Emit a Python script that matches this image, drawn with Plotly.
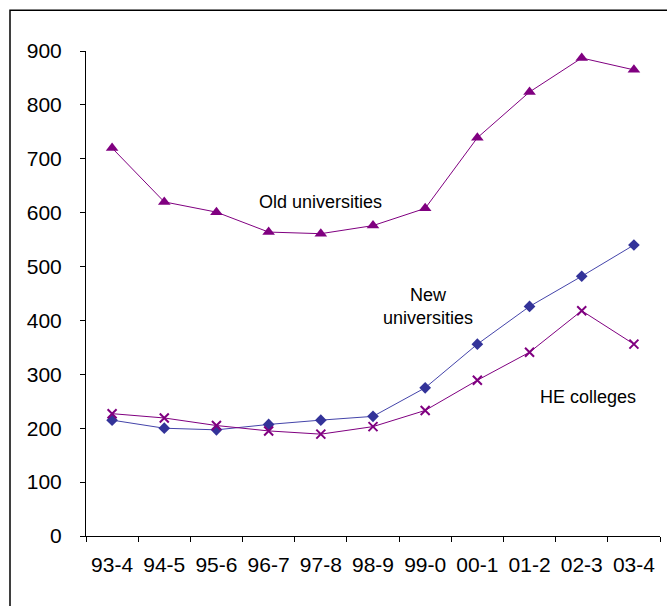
import plotly.graph_objects as go

categories = ["93-4", "94-5", "95-6", "96-7", "97-8", "98-9", "99-0", "00-1", "01-2", "02-3", "03-4"]
old_universities = [720, 620, 601, 564, 561, 576, 608, 739, 824, 887, 865]
new_universities = [215, 200, 197, 207, 215, 222, 275, 356, 426, 482, 540]
he_colleges = [227, 219, 205, 195, 189, 203, 233, 289, 341, 418, 356]
y_ticks = [0, 100, 200, 300, 400, 500, 600, 700, 800, 900]

FONT = "Liberation Sans, Arial, sans-serif"
PURPLE = "#800080"
BLUE = "#333399"

fig = go.Figure()
fig.add_trace(go.Scatter(x=categories, y=old_universities, mode="lines+markers",
                         line=dict(color=PURPLE, width=1),
                         marker=dict(symbol="triangle-up", size=11, color=PURPLE),
                         name="Old universities"))
fig.add_trace(go.Scatter(x=categories, y=new_universities, mode="lines+markers",
                         line=dict(color="#4444aa", width=1),
                         marker=dict(symbol="diamond", size=9, color=BLUE),
                         name="New universities"))
fig.add_trace(go.Scatter(x=categories, y=he_colleges, mode="lines+markers",
                         line=dict(color=PURPLE, width=1),
                         marker=dict(symbol="x-thin", size=9, color=PURPLE,
                                     line=dict(color=PURPLE, width=2)),
                         name="HE colleges"))

fig.add_annotation(x=4.0, y=620, text="Old universities", showarrow=False,
                   font=dict(family=FONT, size=18, color="black"))
fig.add_annotation(x=6.05, y=426, text="New<br>universities", showarrow=False,
                   font=dict(family=FONT, size=18, color="black"))
fig.add_annotation(x=9.12, y=258, text="HE colleges", showarrow=False,
                   font=dict(family=FONT, size=18, color="black"))

fig.update_layout(
    template="none",
    width=667, height=606,
    margin=dict(l=86, r=7, t=51, b=70, autoexpand=False),
    paper_bgcolor="white", plot_bgcolor="white",
    showlegend=False,
    font=dict(family=FONT, size=21, color="black"),
    xaxis=dict(type="category", tickson="boundaries", ticks="outside", ticklen=5,
               tickcolor="black", showline=True, linecolor="black", linewidth=1,
               showgrid=False, zeroline=False, range=[-0.5, 10.5], automargin=False,
               tickfont=dict(family=FONT, size=21), ticklabelstandoff=10),
    yaxis=dict(range=[0, 900], tickvals=y_ticks, ticks="outside", ticklen=5,
               tickcolor="black", showline=True, linecolor="black", linewidth=1,
               showgrid=False, zeroline=False, automargin=False,
               tickfont=dict(family=FONT, size=21), ticklabelstandoff=14),
    shapes=[dict(type="rect", xref="paper", yref="paper",
                 x0=(10 - 86) / 574, x1=(680 - 86) / 574,
                 y0=-80 / 485.5, y1=1 + 40.7 / 485.5,
                 line=dict(color="black", width=1.5), fillcolor="rgba(0,0,0,0)")],
)
fig.write_html("out.html", config={"displayModeBar": False},
               post_script="document.body.style.margin='0';document.body.style.overflow='hidden';")
